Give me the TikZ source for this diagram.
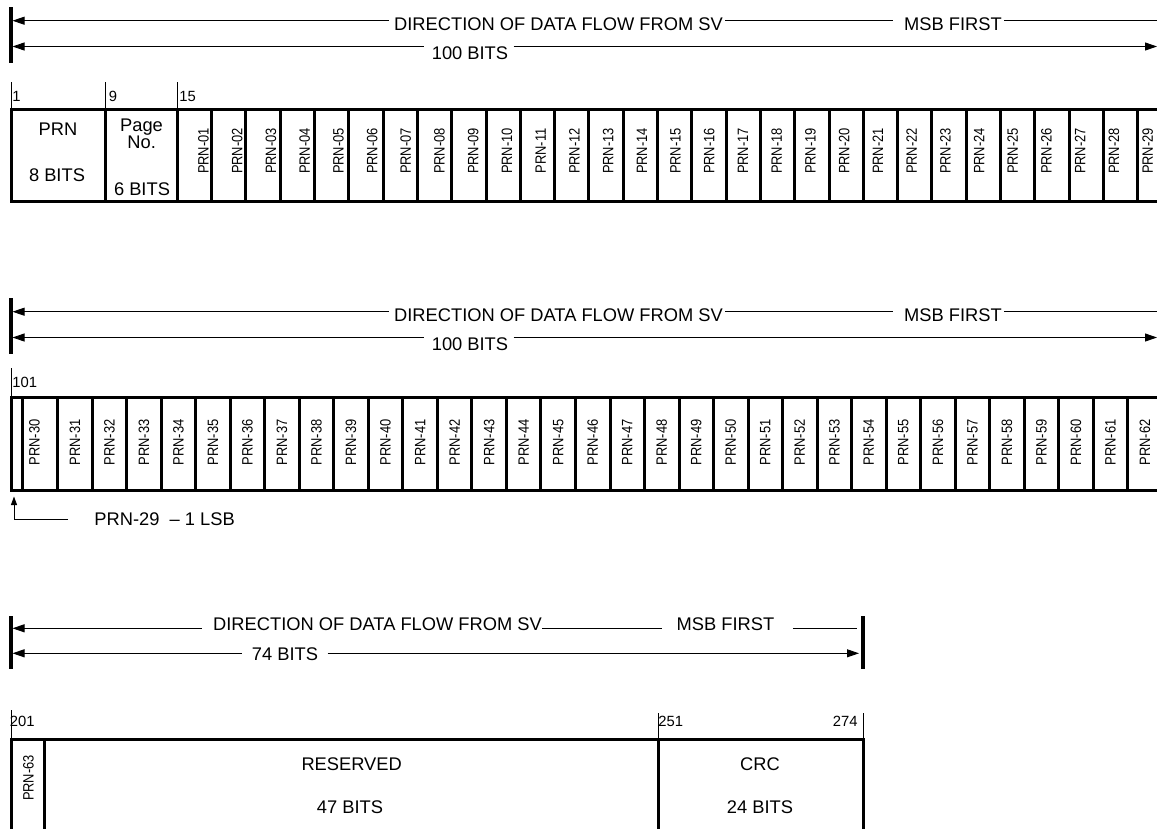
\documentclass[tikz,border=0pt]{standalone}
\usepackage{fontspec}
\setmainfont{Liberation Sans}
\usetikzlibrary{arrows.meta,calc}

\begin{document}
\begin{tikzpicture}[x=1pt,y=-1pt,>={Triangle[length=12pt,width=8pt]},line width=0.9pt,
  big text/.style={font=\fontsize{18.3}{20}\selectfont,inner sep=0pt},
  num text/.style={font=\fontsize{14.8}{16}\selectfont,inner sep=0pt,anchor=base west},
  prn text/.style={font=\fontsize{15}{16}\selectfont,inner sep=0pt,rotate=90,xscale=0.86},
  field/.style={line width=3pt},
  flow bar/.style={line width=3.8pt},
  bit tick/.style={line width=1pt}]

  \useasboundingbox (0,0) rectangle (1157,828);

  % headers of the two 100 bit words
  \foreach \s/\dy in {1/0,2/291}{
    \draw[flow bar] (11,7+\dy) -- (11,63+\dy);
    \node[big text,anchor=base] (dir\s) at (558.5,30+\dy) {DIRECTION OF DATA FLOW FROM SV};
    \node[big text,anchor=base] (msb\s) at (953,30+\dy) {MSB FIRST};
    \node[big text,anchor=base] (len\s) at (470,59+\dy) {100 BITS};
    \coordinate (a\s) at (12.5,20.7+\dy);
    \coordinate (b\s) at (12.5,46.5+\dy);
    \coordinate (ae\s) at (1157,20.7+\dy);
    \coordinate (be\s) at (1157,46.5+\dy);
    \draw[<-] (a\s) -- ($(a\s -| dir\s.west)+(-5,0)$);
    \draw ($(a\s -| dir\s.east)+(2,0)$) -- ($(a\s -| msb\s.west)+(-11,0)$);
    \draw ($(a\s -| msb\s.east)+(2,0)$) -- (ae\s);
    \draw[<-] (b\s) -- ($(b\s -| len\s.west)+(-7,0)$);
    \draw[->] ($(b\s -| len\s.east)+(5,0)$) -- (be\s);
  }

  % bits 1 - 100
  \draw[bit tick] (11,82) -- (11,109) (105,82) -- (105,109) (177.3,82) -- (177.3,109);
  \node[num text] (n1) at (12,101.7) {1};
  \node[num text] (n9) at (108.5,101.7) {9};
  \node[num text] (n15) at (179,101.7) {15};
  \draw[field] (1157,109) -- (11,109) -- (11,201) -- (1157,201);
  \draw[field] (105,109) -- (105,201) (177.3,109) -- (177.3,201);
  \foreach \i [evaluate=\i as \cx using 177.3+\i*34.3] in {1,...,28}
    \draw[field] (\cx,109) -- (\cx,201);
  \foreach \i [evaluate=\i as \lx using 203.5+(\i-1)*33.72] in {1,...,29}
    \node[prn text] (prn\i) at (\lx,151) {PRN-\ifnum\i<10 0\fi\i};
  \node[big text,anchor=base] (prn) at (58,135) {PRN};
  \node[big text,anchor=base] (prnbits) at (57,181.7) {8 BITS};
  \node[big text,anchor=base] (page) at (141.5,131.5) {Page};
  \node[big text,anchor=base] (pageno) at (141.7,148.3) {No.};
  \node[big text,anchor=base] (pagebits) at (142,195) {6 BITS};

  % bits 101 - 200
  \draw[bit tick] (11,368) -- (11,397.3);
  \node[num text] (n101) at (12,387.3) {101};
  \draw[field] (1157,397.3) -- (11,397.3) -- (11,490.7) -- (1157,490.7);
  \draw[field] (22,397.3) -- (22,490.7);
  \foreach \i [evaluate=\i as \cx using 57.7+(\i-31)*34.52] in {31,...,62}
    \draw[field] (\cx,397.3) -- (\cx,490.7);
  \node[prn text] (prn30) at (34.5,442.5) {PRN-30};
  \foreach \i [evaluate=\i as \lx using 74.9+(\i-31)*34.52] in {31,...,62}
    \node[prn text] (prn\i) at (\lx,442.5) {PRN-\i};
  \node[big text,anchor=base west] (lsb) at (94,525.7) {PRN-29\ \ -- 1 LSB};
  \coordinate (lsbtip) at (14,496.5);
  \draw[-{Triangle[length=8.5pt,width=6pt]}] ($(lsb.west)+(-26,0)$) -| (lsbtip);

  % bits 201 - 274
  \draw[flow bar] (11,616) -- (11,669.3) (862.7,616) -- (862.7,669.3);
  \node[big text,anchor=base] (dir3) at (377.5,630) {DIRECTION OF DATA FLOW FROM SV};
  \node[big text,anchor=base] (msb3) at (725.5,630) {MSB FIRST};
  \node[big text,anchor=base] (len3) at (285,660) {74 BITS};
  \coordinate (a3) at (12.5,628.3);
  \coordinate (b3) at (12.5,653.3);
  \coordinate (ae3) at (856.7,628.3);
  \coordinate (be3) at (859,653.3);
  \draw[<-] (a3) -- ($(a3 -| dir3.west)+(-11,0)$);
  \draw (a3 -| dir3.east) -- ($(a3 -| msb3.west)+(-14,0)$);
  \draw ($(a3 -| msb3.east)+(18,0)$) -- (ae3);
  \draw[<-] (b3) -- ($(b3 -| len3.west)+(-9,0)$);
  \draw[->] ($(b3 -| len3.east)+(9,0)$) -- (be3);

  \draw[bit tick] (11,710) -- (11,739.3) (658.3,713) -- (658.3,739.3) (863.3,713) -- (863.3,739.3);
  \node[num text] (n201) at (9.5,726.7) {201};
  \node[num text] (n251) at (658,726) {251};
  \node[num text,anchor=base east] (n274) at (858,726) {274};
  \draw[field] (11,832) -- (11,739.3) -- (863,739.3) -- (863,832);
  \draw[field] (44,739.3) -- (44,832) (658.3,739.3) -- (658.3,832);
  \node[prn text] (prn63) at (28.5,778) {PRN-63};
  \node[big text,anchor=base] (res) at (351.7,770) {RESERVED};
  \node[big text,anchor=base] (resbits) at (350,813.3) {47 BITS};
  \node[big text,anchor=base] (crc) at (760,770) {CRC};
  \node[big text,anchor=base] (crcbits) at (760,813.3) {24 BITS};
\end{tikzpicture}
\end{document}
